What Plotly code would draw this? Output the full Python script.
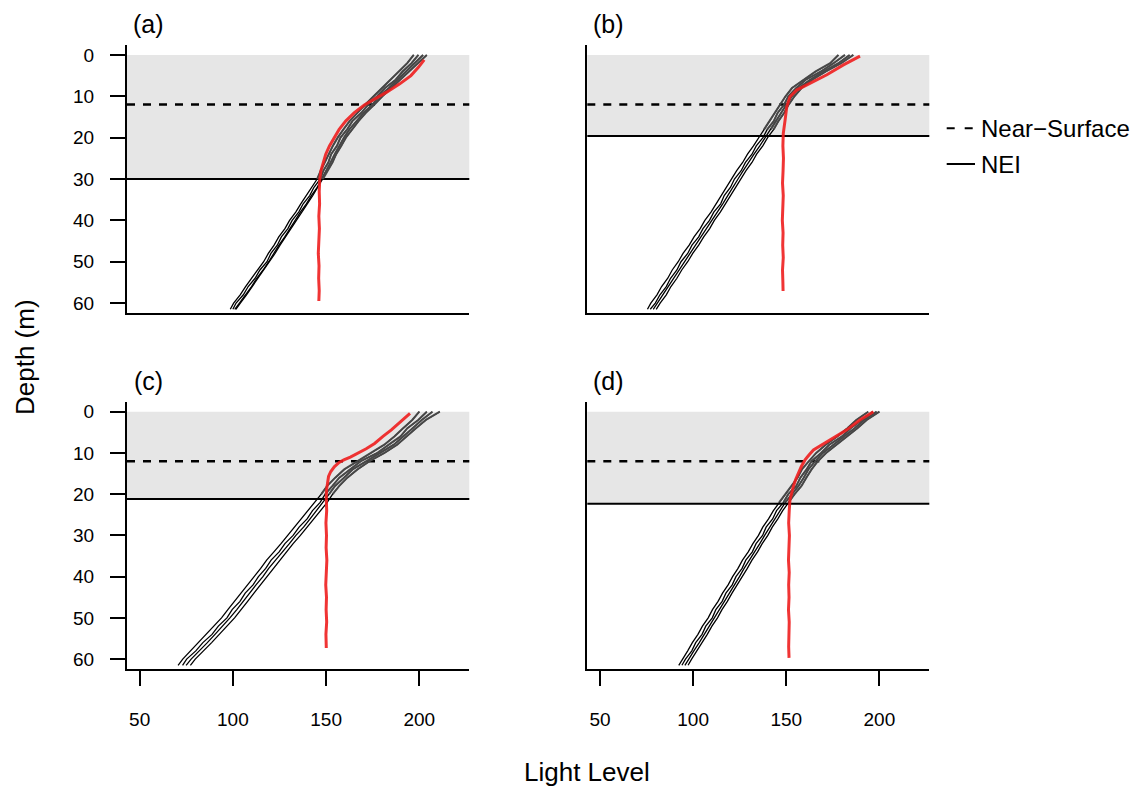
import plotly.graph_objects as go

# ---------------- data ----------------
DEPTH = [0, 2, 4, 6, 8, 10, 12, 14, 16, 18, 20, 22, 24, 26, 28, 30, 32, 34, 36, 38,
         40, 42, 44, 46, 48, 50, 52, 54, 56, 58, 60, 61.5]

X_TICKS = [50, 100, 150, 200]
Y_TICKS = [0, 10, 20, 30, 40, 50, 60]
PANEL_LABELS = ["(a)", "(b)", "(c)", "(d)"]
NEAR_SURFACE = [12, 12, 12, 12]
NEI_DEPTH = [30, 19.6, 21.2, 22.3]

# panel (a) profiles (light level at each DEPTH)
A1 = [197, 193.5, 189, 184.5, 179.8, 175, 171, 166.8, 162.6, 159.3, 156.2, 153.6, 151.3, 149.2, 147.1, 145.2,
      142.2, 139.6, 136.4, 133.7, 130.4, 127.9, 124.6, 122.1, 119, 116.5, 113.2, 110.2, 106.8, 103.9, 100.4, 98.6]
A2 = [199.5, 195.8, 191, 187.3, 181.6, 177.4, 172.6, 168.9, 164.1, 161.3, 157.7, 155.8, 152.7, 151.2, 148.5, 146.9,
      143.5, 141.2, 137.7, 135.3, 131.8, 129.5, 126, 123.8, 120.4, 118.3, 114.5, 111.9, 108.2, 105.6, 101.7, 100]
A3 = [202, 197.5, 193.2, 188.4, 183.7, 178.5, 174.8, 170.1, 166.2, 162.5, 159.6, 157, 154.6, 152.4, 150.1, 147.8,
      145.2, 142.1, 139.4, 136.2, 133.5, 130.4, 127.8, 124.7, 122.1, 119.2, 116.2, 112.8, 110, 106.5, 103.5, 101]
A4 = [204, 199.2, 194.6, 189.8, 185, 180.2, 175.9, 171.3, 167.4, 163.8, 160.6, 158.1, 155.4, 153.4, 150.8, 148.3,
      145.6, 142.8, 139.9, 136.9, 134.1, 131, 128.2, 125.3, 122.6, 119.6, 116.7, 113.4, 110.4, 107.3, 104, 101.6]

# panel (b)
B1 = [178, 173.6, 165.8, 159.2, 153.1, 149.6, 146.8, 143.7, 141.2, 138.1, 135.3, 132.4, 129.2, 126.6, 123.4, 120.7,
      117.6, 115.2, 112.3, 109.6, 106.3, 103.8, 100.5, 97.9, 94.6, 92, 88.8, 86.4, 83.1, 80.6, 77.3, 75.5]
B2 = [181.5, 175.4, 168.6, 160.5, 155.4, 151.1, 148.9, 145.4, 143.3, 139.8, 137.5, 133.9, 131.6, 128.1, 125.8, 122.2,
      120.1, 116.7, 114.8, 111.1, 108.8, 105.3, 103, 99.4, 97.1, 93.5, 91.3, 87.9, 85.6, 82.2, 79.7, 77]
B3 = [184, 178, 170, 162.8, 156.8, 153, 150.1, 147.3, 144.4, 141.8, 138.6, 135.8, 132.7, 130, 126.9, 124.1,
      121.2, 118.6, 115.9, 113, 110, 107.2, 104.1, 101.3, 98.2, 95.4, 92.4, 89.7, 86.7, 84, 80.8, 78.6]
B4 = [186, 179.5, 171.3, 164, 158.2, 154.4, 151.3, 148.9, 145.8, 143.3, 140, 137.4, 134.1, 131.6, 128.4, 125.7,
      122.6, 120.2, 117.3, 114.6, 111.4, 108.9, 105.7, 103, 99.8, 97.1, 93.9, 91.3, 88.1, 85.6, 82.3, 80.2]

# panel (c)
C1 = [200, 196.2, 191.3, 186.6, 181.2, 174.1, 166.5, 159.7, 154.9, 150.6, 147.4, 143.8, 140.6, 137.1, 133.2, 129.6,
      125.8, 122, 118.1, 114.9, 111.3, 107.9, 104.4, 100.8, 97.3, 93.9, 89.8, 85.9, 81.4, 77.2, 73.1, 70.6]
C2 = [204, 199.4, 193.6, 189.9, 183.6, 177.5, 168.6, 162.9, 157.1, 153.4, 149.5, 146.8, 142.7, 139.8, 135.5, 132.3,
      127.9, 124.8, 120.5, 117.6, 113.7, 110.8, 106.6, 103.8, 99.6, 96.8, 92.2, 88.8, 83.9, 80.1, 75.2, 73]
C3 = [207, 201.3, 196.4, 191.2, 186.3, 179, 171.2, 164.2, 159.6, 154.8, 151.6, 148.3, 145.2, 141.4, 137.9, 133.8,
      130.3, 126.4, 122.9, 119.2, 116.1, 112.4, 109.1, 105.4, 102.1, 98.4, 94.6, 90.4, 86.3, 81.7, 77.6, 74.9]
C4 = [211, 203.5, 198.2, 193.4, 188.1, 181.3, 173.3, 166.8, 161.4, 157.1, 153.5, 150.6, 147, 143.7, 139.9, 136.2,
      132.3, 128.8, 124.9, 121.6, 118.2, 114.8, 111.3, 107.9, 104.4, 100.9, 96.8, 92.9, 88.6, 84.2, 79.8, 77.2]

# panel (d)
D1 = [194, 187.6, 182.8, 177.4, 171.2, 166.1, 162.2, 158.4, 156.1, 152.8, 149.6, 146.2, 143.1, 140.5, 137.4, 135.1,
      132.1, 129.6, 126.5, 124.1, 121.2, 118.8, 115.8, 113.4, 110.4, 108.1, 105, 102.6, 99.6, 97.1, 94.1, 92.3]
D2 = [196.5, 190.4, 184.6, 179.9, 173.1, 168.7, 163.6, 160.9, 157.6, 155.4, 151.1, 148.5, 144.8, 142.7, 139.2, 137.3,
      133.8, 131.8, 128.3, 126.3, 123, 121, 117.6, 115.6, 112.2, 110.3, 106.8, 104.8, 101.4, 99.3, 95.9, 94]
D3 = [198.5, 191.8, 186.7, 181, 175.2, 169.7, 165.6, 161.9, 159.4, 156.6, 153.1, 149.5, 146.7, 143.8, 141.2, 138.4,
      135.8, 132.9, 130.3, 127.4, 124.9, 122.1, 119.5, 116.7, 114.1, 111.4, 108.8, 105.9, 103.3, 100.4, 97.8, 95.6]
D4 = [200, 193.2, 188.2, 182.6, 176.6, 171.4, 167, 163.6, 160.8, 158.2, 154.5, 151.2, 148.1, 145.5, 142.5, 140.1,
      137.1, 134.6, 131.6, 129.1, 126.3, 123.8, 120.9, 118.4, 115.5, 113.1, 110.1, 107.6, 104.7, 102.1, 99.2, 97.3]

# red (reference) profiles
RED_A_DEPTH = [1.2, 3, 5, 7, 9, 11, 12.1, 14, 16, 18, 20, 22, 24, 26, 28, 30, 33, 36, 39, 42, 45, 48, 51, 54, 57, 59.5]
RED_A_LIGHT = [202.6, 199.5, 195.5, 189.5, 182.5, 175, 170.5, 165, 160.5, 157, 154.3, 151.8, 149.8, 148.3, 147.2,
               146.6, 146.3, 146.5, 146.1, 146.4, 146.0, 145.8, 146.2, 146.0, 146.3, 146.1]
RED_B_DEPTH = [0.3, 2.4, 4.8, 6.9, 8.5, 10.1, 12.5, 15.7, 19, 22, 25, 28, 31, 34, 37, 40, 43, 46, 49, 52, 55, 57.1]
RED_B_LIGHT = [189.6, 180.7, 171.8, 162.8, 155.6, 152, 150.3, 149.4, 148.4, 148.2, 148.5, 148.3, 148.0, 148.4,
               148.2, 147.9, 148.3, 148.1, 148.4, 148.0, 148.2, 148.3]
RED_C_DEPTH = [0.4, 2.5, 4.4, 6, 7.7, 9, 10.1, 11, 11.7, 12.3, 13.3, 14.5, 15.7, 17.5, 19, 21, 24, 27, 30, 33, 36,
               39, 42, 45, 48, 51, 54, 57.3]
RED_C_LIGHT = [195, 190, 185, 180.5, 176, 171.5, 167, 163, 159.5, 157, 154.5, 152.5, 151.3, 150.6, 150.2, 150.1,
               150.3, 149.9, 150.2, 150.0, 150.4, 150.1, 149.8, 150.2, 150.0, 150.3, 149.9, 150.1]
RED_D_DEPTH = [0, 2, 4.4, 6, 7.3, 8.3, 9.3, 10.5, 11.7, 13.3, 14.9, 16.5, 18.2, 20, 21.4, 24, 27, 30, 33, 36, 39,
               42, 45, 48, 51, 54, 57, 59.7]
RED_D_LIGHT = [196.8, 189.5, 182.5, 176.5, 171.8, 168, 164.6, 162.2, 160.1, 158.1, 156.5, 155, 153.8, 152.7, 152,
               151.6, 151.3, 151.7, 151.4, 151.2, 151.6, 151.3, 151.5, 151.2, 151.6, 151.4, 151.3, 151.5]

PROFILES = [[A1, A2, A3, A4], [B1, B2, B3, B4], [C1, C2, C3, C4], [D1, D2, D3, D4]]
RED = [(RED_A_LIGHT, RED_A_DEPTH), (RED_B_LIGHT, RED_B_DEPTH), (RED_C_LIGHT, RED_C_DEPTH), (RED_D_LIGHT, RED_D_DEPTH)]

# ---------------- layout geometry ----------------
W, H = 1144, 791
FONT = "Liberation Sans, Arial, Helvetica, sans-serif"
X_RANGE = [43.2, 226.8]
Y_RANGE = [62.4, -2.4]
COL_DOM = [[127 / W, 469.3 / W], [587.3 / W, 929.3 / W]]
ROW_DOM = [[1 - 313 / H, 1 - 45 / H], [1 - 669 / H, 1 - 401.8 / H]]

fig = go.Figure()
layout_axes = {}
shapes = []
annotations = []

for i in range(4):
    row, col = divmod(i, 2)
    n = "" if i == 0 else str(i + 1)
    xa, ya = "x" + n, "y" + n
    nei = NEI_DEPTH[i]

    # background shading and reference lines
    shapes.append(dict(type="rect", xref=f"{xa} domain", yref=ya, x0=0, x1=1, y0=0, y1=nei,
                       fillcolor="#e6e6e6", line=dict(width=0), layer="below"))
    shapes.append(dict(type="line", xref=f"{xa} domain", yref=ya, x0=0, x1=1,
                       y0=NEAR_SURFACE[i], y1=NEAR_SURFACE[i],
                       line=dict(color="black", width=2.5, dash="8px,8px"), layer="below"))
    shapes.append(dict(type="line", xref=f"{xa} domain", yref=ya, x0=0, x1=1, y0=nei, y1=nei,
                       line=dict(color="black", width=2), layer="below"))

    for prof in PROFILES[i]:
        fig.add_trace(go.Scatter(x=prof, y=DEPTH, xaxis=xa, yaxis=ya, mode="lines",
                                 line=dict(color="black", width=1.3), showlegend=False,
                                 hoverinfo="skip"))
    for prof in PROFILES[i]:
        up_x = [v for v, d in zip(prof, DEPTH) if d <= nei]
        up_y = [d for d in DEPTH if d <= nei]
        fig.add_trace(go.Scatter(x=up_x, y=up_y, xaxis=xa, yaxis=ya, mode="lines",
                                 line=dict(color="rgba(75,75,75,0.92)", width=2), showlegend=False,
                                 hoverinfo="skip"))
    rl, rd = RED[i]
    fig.add_trace(go.Scatter(x=rl, y=rd, xaxis=xa, yaxis=ya, mode="lines",
                             line=dict(color="rgba(238,30,30,0.9)", width=3), showlegend=False,
                             hoverinfo="skip"))

    xax = dict(domain=COL_DOM[col], range=X_RANGE, anchor=ya, showline=True, linecolor="black",
               linewidth=2, showgrid=False, zeroline=False, automargin=False, fixedrange=True)
    if row == 1:
        xax.update(ticks="outside", ticklen=15, tickwidth=2, tickcolor="black",
                   tickvals=X_TICKS, ticktext=[str(v) for v in X_TICKS],
                   tickfont=dict(family=FONT, size=19, color="black"), ticklabelstandoff=17)
    else:
        xax.update(ticks="", showticklabels=False)
    yax = dict(domain=ROW_DOM[row], range=Y_RANGE, anchor=xa, showline=True, linecolor="black",
               linewidth=2, showgrid=False, zeroline=False, automargin=False, fixedrange=True)
    if col == 0:
        yax.update(ticks="outside", ticklen=15, tickwidth=2, tickcolor="black",
                   tickvals=Y_TICKS, ticktext=[str(v) for v in Y_TICKS],
                   tickfont=dict(family=FONT, size=19, color="black"), ticklabelstandoff=12)
    else:
        yax.update(ticks="", showticklabels=False)
    layout_axes["xaxis" + n] = xax
    layout_axes["yaxis" + n] = yax

    # panel label
    lx = [148 / W, 609 / W][col]
    ly = [1 - 24 / H, 1 - 380.8 / H][row]
    annotations.append(dict(text=PANEL_LABELS[i], x=lx, y=ly, xref="paper", yref="paper",
                            xanchor="center", yanchor="middle", showarrow=False,
                            font=dict(family=FONT, size=25, color="black")))

# axis titles
annotations.append(dict(text="Light Level", x=587.4 / W, y=1 - 772 / H, xref="paper", yref="paper",
                        xanchor="center", yanchor="middle", showarrow=False,
                        font=dict(family=FONT, size=26, color="black")))
annotations.append(dict(text="Depth (m)", x=25 / W, y=1 - 357 / H, xref="paper", yref="paper",
                        xanchor="center", yanchor="middle", showarrow=False, textangle=-90,
                        font=dict(family=FONT, size=26, color="black")))

# legend (drawn manually)
LEGEND_LABELS = ["Near\u2212Surface", "NEI"]
shapes.append(dict(type="line", xref="paper", yref="paper", x0=946.7 / W, x1=973.3 / W,
                   y0=1 - 128.3 / H, y1=1 - 128.3 / H,
                   line=dict(color="black", width=2, dash="8px,10px")))
shapes.append(dict(type="line", xref="paper", yref="paper", x0=946.7 / W, x1=975 / W,
                   y0=1 - 164 / H, y1=1 - 164 / H, line=dict(color="black", width=2)))
for lab, yy in zip(LEGEND_LABELS, [128.3, 164]):
    annotations.append(dict(text=lab, x=979 / W, y=1 - yy / H, xref="paper", yref="paper",
                            xanchor="left", yanchor="middle", showarrow=False,
                            font=dict(family=FONT, size=24, color="black")))

fig.update_layout(width=W, height=H, autosize=False, margin=dict(l=0, r=0, t=0, b=0),
                  paper_bgcolor="white", plot_bgcolor="white", showlegend=False,
                  shapes=shapes, annotations=annotations,
                  font=dict(family=FONT, color="black"), **layout_axes)

fig.write_html("out.html", config={"displayModeBar": False})
